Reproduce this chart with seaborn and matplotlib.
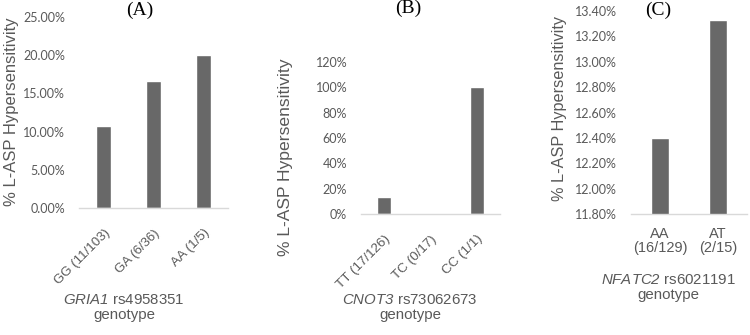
import matplotlib
matplotlib.use("Agg")
import matplotlib.pyplot as plt
import seaborn as sns
import pandas as pd
from matplotlib.ticker import FuncFormatter, MultipleLocator

# ---- data ----
a_cats = ["GG (11/103)", "GA (6/36)", "AA (1/5)"]
a_vals = [10.68, 16.67, 20.00]
b_cats = ["TT (17/126)", "TC (0/17)", "CC (1/1)"]
b_vals = [13.49, 0.0, 100.0]
c_cats = ["AA\n(16/129)", "AT\n(2/15)"]
c_vals = [12.40, 13.33]
ylabel = "% L-ASP Hypersensitivity"
a_xlabel = "$\\it{GRIA1}$ rs4958351\ngenotype"
b_xlabel = "$\\it{CNOT3}$ rs73062673\ngenotype"
c_xlabel = "$\\it{NFATC2}$ rs6021191\ngenotype"
titles = ["(A)", "(B)", "(C)"]

sns.set_theme(style="white")
plt.rcParams["font.family"] = ["Liberation Sans", "DejaVu Sans"]
plt.rcParams["mathtext.fontset"] = "custom"
plt.rcParams["mathtext.it"] = "Liberation Sans:italic"
plt.rcParams["mathtext.rm"] = "Liberation Sans:italic"

BAR = "#686868"
TXT = "#595959"
AXL = "#d9d9d9"

W, H = 750, 335
fig = plt.figure(figsize=(7.5, 3.35), dpi=100)


def px_axes(left, right, top, bottom):
    return fig.add_axes([left / W, (H - bottom) / H, (right - left) / W, (bottom - top) / H])


def style(ax, ylim, step, fmt, ylab_xy, ylab_size, xtick_rot, xtick_size, xtick_pad):
    ax.set_ylim(*ylim)
    ax.yaxis.set_major_locator(MultipleLocator(step))
    ax.yaxis.set_major_formatter(FuncFormatter(fmt))
    for s in ["top", "right", "left"]:
        ax.spines[s].set_visible(False)
    ax.spines["bottom"].set_color(AXL)
    ax.spines["bottom"].set_linewidth(1.0)
    ax.tick_params(axis="y", length=0, pad=10, labelsize=9, labelcolor=TXT)
    ax.tick_params(axis="x", length=0, pad=xtick_pad, labelsize=xtick_size, labelcolor=TXT)
    for t in ax.get_yticklabels():
        t.set_fontfamily("Lato")
    if xtick_rot:
        for t in ax.get_xticklabels():
            t.set_rotation(45)
            t.set_ha("right")
            t.set_va("top")
            t.set_rotation_mode("anchor")
    else:
        for t in ax.get_xticklabels():
            t.set_linespacing(1.0)
    ax.set_ylabel(ylabel, fontsize=ylab_size, color=TXT)
    ax.yaxis.set_label_coords(*ylab_xy)
    ax.grid(False)


# Panel A
axA = px_axes(79, 228, 17, 208)
sns.barplot(x=a_cats, y=a_vals, color=BAR, saturation=1, width=0.3, ax=axA)
axA.set_xlim(-0.5, 2.5)
style(axA, (0, 25), 5, lambda v, p: f"{v:.2f}%", (-0.403, 0.503), 12.0, True, 9.5, 13.7)
axA.set_xlabel(a_xlabel, fontsize=10.8, color=TXT, linespacing=1.05, va="top")
axA.xaxis.set_label_coords(0.302, -0.445)

# Panel B
axB = px_axes(361, 500, 62, 214)
sns.barplot(x=b_cats, y=b_vals, color=BAR, saturation=1, width=0.3, ax=axB)
axB.set_xlim(-0.5, 2.5)
style(axB, (0, 120), 20, lambda v, p: f"{v:.0f}%", (-0.489, 0.372), 12.6, True, 9.6, 13.7)
axB.set_xlabel(b_xlabel, fontsize=10.8, color=TXT, linespacing=1.05, va="top")
axB.xaxis.set_label_coords(0.353, -0.52)

# Panel C
axC = px_axes(631, 747, 11, 214)
sns.barplot(x=c_cats, y=c_vals, color=BAR, saturation=1, width=0.31, ax=axC)
axC.set_xlim(-0.5, 1.5)
style(axC, (11.8, 13.4), 0.2, lambda v, p: f"{v:.2f}%", (-0.552, 0.52), 11.7, False, 10.5, 9.5)
axC.set_xlabel(c_xlabel, fontsize=10.8, color=TXT, linespacing=1.12, va="top")
axC.xaxis.set_label_coords(0.319, -0.29)

# Titles
for (x, y), t in zip([(140, 10), (408, 8), (658, 10)], titles):
    fig.text(x / W, 1 - y / H, t, ha="center", va="center", fontsize=14,
             family=["Liberation Serif", "DejaVu Serif"], color="black")

fig.savefig("out.png", dpi=100)
